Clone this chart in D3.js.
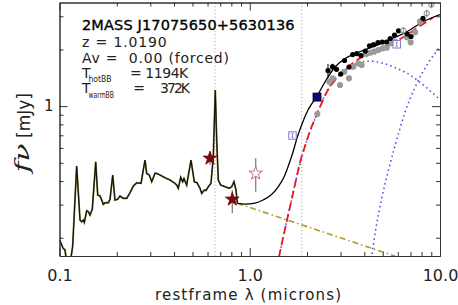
<!DOCTYPE html>
<html><head><meta charset="utf-8">
<script src="https://cdn.jsdelivr.net/npm/d3@7"></script>
<style>body{margin:0;background:#fff} svg{display:block}</style>
</head><body>
<svg id="c" width="458" height="305"></svg>
<script>
// ---- data (restframe wavelength in microns, f_nu in mJy) ----
const spectrum = [[0.1000,0.1945],[0.1018,0.1875],[0.1043,0.1764],[0.1069,0.1721],[0.1089,0.150],[0.1142,0.150],[0.1173,0.1807],[0.1231,0.4808],[0.1282,0.2484],[0.1308,0.2432],[0.1334,0.2484],[0.1350,0.2414],[0.1390,0.2782],[0.1417,0.2749],[0.1447,0.2640],[0.1487,0.2830],[0.1550,0.5067],[0.1588,0.3372],[0.1633,0.3331],[0.1667,0.3172],[0.1699,0.3010],[0.1734,0.3069],[0.1805,0.3069],[0.1843,0.3199],[0.1904,0.4305],[0.1957,0.3172],[0.2022,0.3199],[0.2080,0.3331],[0.2164,0.3238],[0.2255,0.3238],[0.2347,0.3467],[0.2443,0.3763],[0.2546,0.3919],[0.2682,0.3890],[0.2738,0.4395],[0.2814,0.5173],[0.2873,0.4395],[0.2965,0.4305],[0.3052,0.3967],[0.3177,0.4395],[0.3243,0.4395],[0.3375,0.4305],[0.3585,0.4166],[0.3809,0.4050],[0.4047,0.3890],[0.4130,0.3811],[0.4211,0.3660],[0.4336,0.4186],[0.4442,0.3967],[0.4512,0.4125],[0.4661,0.3811],[0.4912,0.5173],[0.5111,0.3967],[0.5281,0.3919],[0.5477,0.3660],[0.5590,0.3442],[0.5769,0.3584],[0.5888,0.3563],[0.6054,0.3733],[0.6255,0.3890],[0.6432,0.5386],[0.6590,1.218],[0.6703,0.6606],[0.6834,0.4050],[0.7035,0.3811],[0.7413,0.3733],[0.7809,0.3660],[0.8039,0.3733],[0.8266,0.3967],[0.8469,0.3584],[0.8603,0.3047]];
const modelTotal = [[0.8603,0.3047],[0.9441,0.3020],[1.066,0.3057],[1.174,0.3172],[1.293,0.3372],[1.408,0.3719],[1.514,0.4201],[1.608,0.4927],[1.688,0.5706],[1.772,0.6770],[1.882,0.8034],[2.024,0.9534],[2.257,1.131],[2.486,1.343],[2.806,1.613],[3.168,1.789],[3.662,1.914],[4.444,2.068],[5.461,2.263],[6.708,2.484],[8.140,2.807],[10.0,3.065]];
const powerLaw = [[0.8603,0.3047],[5.800,0.1599]];
const dustSum = [[1.424,0.158],[1.496,0.1993],[1.570,0.2484],[1.668,0.3251],[1.750,0.4050],[1.837,0.5037],[1.945,0.6072],[2.074,0.7375],[2.265,0.9157],[2.578,1.218],[2.864,1.405],[3.296,1.619],[3.797,1.794],[4.460,1.945],[5.461,2.111],[6.683,2.386],[7.852,2.663],[9.190,2.954]];
const hotBB = [[1.424,0.158],[1.570,0.2484],[1.750,0.4050],[1.945,0.6072],[2.265,0.9157],[2.578,1.233],[2.910,1.445],[3.245,1.584],[3.649,1.684],[4.286,1.732],[5.035,1.688],[5.922,1.587],[6.957,1.463],[8.171,1.295],[9.607,1.122],[10.0,1.084]];
const warmBB = [[4.355,0.155],[4.609,0.2253],[4.915,0.3172],[5.330,0.4467],[5.779,0.6072],[6.523,0.9157],[7.362,1.248],[8.648,1.688],[10.0,2.060]];
const irsBlack = [[2.578,1.546,0.13],[2.723,1.619,0.06],[2.858,1.568,0.05],[3.007,1.481,0.04],[3.148,1.747,0.05],[3.324,1.613,0.04],[3.476,1.879,0.05],[3.653,1.902,0.04],[3.843,1.857,0.04],[4.048,1.961,0.04],[4.261,2.090,0.04],[4.472,2.121,0.04],[4.722,2.171,0.04],[4.969,2.190,0.04],[5.234,2.190,0.04],[5.473,2.286,0.04],[5.765,2.386,0.04],[6.052,2.512,0.05],[6.723,2.415,0.05],[7.040,2.342,0.05],[8.140,2.926,0.05]];
const irsGray = [[2.265,0.908],[2.619,1.348],[2.729,1.405],[2.981,1.295],[3.141,1.522],[3.324,1.405],[3.502,1.619],[3.720,1.688],[3.876,1.653],[4.083,1.891],[4.286,1.921],[4.499,1.945],[4.740,1.986],[4.996,2.028],[5.246,2.043],[5.506,2.155],[5.800,2.198],[6.683,2.319],[7.015,2.182],[7.391,2.466],[7.852,2.807]];
const openCircles = [[6.414,2.521],[8.512,3.111],[9.000,3.456]];
const starsFilled = [[0.6181,0.5282,0.4866,0.5726],[0.8095,0.3199,0.2696,0.3584]];
const starsOpen = [[1.075,0.4395,0.3510,0.5282]];
const squareFilled = [[2.257,1.117]];
const squaresOpen = [[1.678,0.698],[5.922,2.129]];
const lineMarks = [0.6563, 1.875];
const xTicks = [0.1, 1, 10];
const xTickLabels = ["0.1", "1.0", "10.0"];
const xMinor = [0.2,0.3,0.4,0.5,0.6,0.7,0.8,0.9,2,3,4,5,6,7,8,9];
const yTicks = [1];
const yTickLabels = ["1"];
const yMinor = [0.2,0.3,0.4,0.5,0.6,0.7,0.8,0.9,2,3];
const infoTitle = "2MASS J17075650+5630136";
const infoZ = "z = 1.0190";
const infoAv = "Av =  0.00 (forced)";
const tHot = "1194K", tWarm = "372K";

// ---- layout ----
const L = 59.5, R = 440, T = 2.5, B = 256;
const svg = d3.select("#c");
const x = d3.scaleLog().domain([0.1, 10]).range([L, R]);
const y = d3.scaleLog().domain([0.16, 3.55]).range([B, T]);
const axisCol = "#333";
const font = "DejaVu Sans, sans-serif";

svg.append("defs").append("clipPath").attr("id","clip")
  .append("rect").attr("x",L).attr("y",T).attr("width",R-L).attr("height",B-T);
const plot = svg.append("g").attr("clip-path","url(#clip)");

// vertical dotted marks
plot.selectAll(".vm").data(lineMarks).enter().append("line")
  .attr("x1",d=>x(d)).attr("x2",d=>x(d)).attr("y1",T).attr("y2",B)
  .attr("stroke","#aaa").attr("stroke-width",1).attr("stroke-dasharray","1.2,2.3");

const line = d3.line().x(d=>x(d[0])).y(d=>y(d[1]));
const smooth = d3.line().x(d=>x(d[0])).y(d=>y(d[1])).curve(d3.curveMonotoneX);

// power law
plot.append("path").attr("d",line(powerLaw)).attr("fill","none")
  .attr("stroke","#b39b1e").attr("stroke-width",1.6).attr("stroke-dasharray","6,3,1.5,3");
// hot BB, warm BB (blue dotted)
[hotBB, warmBB].forEach(s=>{
  plot.append("path").attr("d",smooth(s)).attr("fill","none")
    .attr("stroke","#4a4cf0").attr("stroke-width",1.6).attr("stroke-dasharray","1.5,3.2");
});
// sum (red dashed)
plot.append("path").attr("d",smooth(dustSum)).attr("fill","none")
  .attr("stroke","#f01818").attr("stroke-width",1.8).attr("stroke-dasharray","8,4");

// spectrum
plot.append("path").attr("d",line(spectrum)).attr("fill","none")
  .attr("stroke","#77702e").attr("stroke-width",1.8);
plot.append("path").attr("d",line(spectrum)).attr("fill","none")
  .attr("stroke","#111").attr("stroke-width",1.1);
// model total
plot.append("path").attr("d",smooth(modelTotal)).attr("fill","none")
  .attr("stroke","#000").attr("stroke-width",1.3);

// gray points
plot.selectAll(".gp").data(irsGray).enter().append("circle")
  .attr("cx",d=>x(d[0])).attr("cy",d=>y(d[1])).attr("r",3.1).attr("fill","#9a9a9a");
// black points with errors
plot.selectAll(".be").data(irsBlack).enter().append("line")
  .attr("x1",d=>x(d[0])).attr("x2",d=>x(d[0]))
  .attr("y1",d=>y(d[1]-d[2])).attr("y2",d=>y(d[1]+d[2]))
  .attr("stroke","#000").attr("stroke-width",1);
plot.selectAll(".bp").data(irsBlack).enter().append("circle")
  .attr("cx",d=>x(d[0])).attr("cy",d=>y(d[1])).attr("r",2.6).attr("fill","#000");
// open crossed circles
const oc = plot.selectAll(".oc").data(openCircles).enter().append("g")
  .attr("transform",d=>`translate(${x(d[0])},${y(d[1])})`);
oc.append("circle").attr("r",2.6).attr("fill","#fff").attr("stroke","#777").attr("stroke-width",0.9);
oc.append("line").attr("y1",-3.6).attr("y2",3.6).attr("stroke","#777").attr("stroke-width",0.9);

// stars
const starPath = d3.symbol().type(d3.symbolStar).size(58)();
[[starsFilled,"#7a0a0a","#7a0a0a"],[starsOpen,"#fff","#b06a6a"]].forEach(([data,fill,stroke])=>{
  plot.selectAll(null).data(data).enter().append("line")
    .attr("x1",d=>x(d[0])).attr("x2",d=>x(d[0])).attr("y1",d=>y(d[2])).attr("y2",d=>y(d[3]))
    .attr("stroke","#777").attr("stroke-width",1.2);
  plot.selectAll(null).data(data).enter().append("path")
    .attr("d",starPath).attr("transform",d=>`translate(${x(d[0])},${y(d[1])})`)
    .attr("fill",fill).attr("stroke",stroke).attr("stroke-width",0.9);
});
// squares
plot.selectAll(".sq").data(squareFilled).enter().append("rect")
  .attr("x",d=>x(d[0])-4).attr("y",d=>y(d[1])-4).attr("width",8).attr("height",8)
  .attr("fill","#0a0a80").attr("stroke","#000").attr("stroke-width",0.8);
const os = plot.selectAll(".os").data(squaresOpen).enter().append("g")
  .attr("transform",d=>`translate(${x(d[0])},${y(d[1])})`);
os.append("rect").attr("x",-3.7).attr("y",-3.7).attr("width",7.4).attr("height",7.4)
  .attr("fill","#fff").attr("stroke","#6b6bc8").attr("stroke-width",0.9);
os.append("path").attr("d","M-1,-2H1M0,-2V2M-1,2H1").attr("stroke","#6b6bc8").attr("stroke-width",0.8).attr("fill","none");

// ---- axes ----
function styleAxis(g){
  g.select(".domain").attr("stroke",axisCol).attr("stroke-width",1);
  g.selectAll(".tick line").attr("stroke",axisCol).attr("stroke-width",1);
}
const gx = svg.append("g").attr("transform",`translate(0,${B})`)
  .call(d3.axisBottom(x).tickValues(xTicks).tickSize(-8).tickSizeOuter(0).tickPadding(14)
    .tickFormat((d,i)=>xTickLabels[i])).call(styleAxis);
gx.selectAll(".tick text").attr("font-family",font).attr("font-size",16).attr("fill","#222");
svg.append("g").attr("transform",`translate(0,${B})`)
  .call(d3.axisBottom(x).tickValues(xMinor).tickSize(-4).tickSizeOuter(0).tickFormat("")).call(styleAxis);
svg.append("g").attr("transform",`translate(0,${T})`)
  .call(d3.axisTop(x).tickValues(xTicks).tickSize(-8).tickSizeOuter(0).tickFormat("")).call(styleAxis);
svg.append("g").attr("transform",`translate(0,${T})`)
  .call(d3.axisTop(x).tickValues(xMinor).tickSize(-4).tickSizeOuter(0).tickFormat("")).call(styleAxis);
const gy = svg.append("g").attr("transform",`translate(${L},0)`)
  .call(d3.axisLeft(y).tickValues(yTicks).tickSize(-8).tickSizeOuter(0).tickPadding(6)
    .tickFormat((d,i)=>yTickLabels[i])).call(styleAxis);
gy.selectAll(".tick text").attr("font-family",font).attr("font-size",15).attr("fill","#222");
svg.append("g").attr("transform",`translate(${L},0)`)
  .call(d3.axisLeft(y).tickValues(yMinor).tickSize(-4).tickSizeOuter(0).tickFormat("")).call(styleAxis);
svg.append("g").attr("transform",`translate(${R},0)`)
  .call(d3.axisRight(y).tickValues(yTicks).tickSize(-8).tickSizeOuter(0).tickFormat("")).call(styleAxis);
svg.append("g").attr("transform",`translate(${R},0)`)
  .call(d3.axisRight(y).tickValues(yMinor).tickSize(-4).tickSizeOuter(0).tickFormat("")).call(styleAxis);

// axis titles
svg.append("text").attr("x",248).attr("y",299.5).attr("text-anchor","middle")
  .attr("font-family",font).attr("font-size",15).attr("fill","#222")
  .attr("textLength",186).attr("lengthAdjust","spacing").text("restframe λ (microns)");
svg.append("text").attr("transform","translate(30,115.5) rotate(-90)").attr("text-anchor","middle")
  .attr("font-family",font).attr("font-size",17).attr("fill","#222")
  .attr("textLength",45).attr("lengthAdjust","spacingAndGlyphs").text("[mJy]");
svg.append("text").attr("transform","translate(29,158) rotate(-90)").attr("text-anchor","middle")
  .attr("font-family","DejaVu Serif, serif").attr("font-style","italic").attr("font-size",21).attr("fill","#222")
  .attr("textLength",29).attr("lengthAdjust","spacingAndGlyphs").text("fν");

// info text
const info = svg.append("g").attr("font-family",font).attr("fill","#222");
info.append("text").attr("x",82).attr("y",29.5).attr("font-size",14.5).attr("fill","#000")
  .attr("stroke","#000").attr("stroke-width",0.35)
  .attr("textLength",212.5).attr("lengthAdjust","spacing").text(infoTitle);
info.append("text").attr("x",82).attr("y",47).attr("font-size",14)
  .attr("textLength",84.7).attr("lengthAdjust","spacing").text(infoZ);
info.append("text").attr("x",82).attr("y",63).attr("font-size",14)
  .attr("textLength",147).attr("lengthAdjust","spacing").attr("xml:space","preserve").text(infoAv);
info.append("text").attr("x",82).attr("y",77.5).attr("font-size",14).text("T");
info.append("text").attr("x",88.5).attr("y",82).attr("font-size",8)
  .attr("textLength",23).attr("lengthAdjust","spacingAndGlyphs").text("hotBB");
info.append("text").attr("x",130).attr("y",77.5).attr("font-size",14)
  .attr("textLength",58.3).attr("lengthAdjust","spacing").text("= " + tHot);
info.append("text").attr("x",82).attr("y",93.3).attr("font-size",14).text("T");
info.append("text").attr("x",88.5).attr("y",98).attr("font-size",8)
  .attr("textLength",25.5).attr("lengthAdjust","spacingAndGlyphs").text("warmBB");
info.append("text").attr("x",133.3).attr("y",93.3).attr("font-size",14).text("=");
info.append("text").attr("x",160).attr("y",93.3).attr("font-size",14)
  .attr("textLength",30).attr("lengthAdjust","spacing").text(tWarm);
</script>
</body></html>
